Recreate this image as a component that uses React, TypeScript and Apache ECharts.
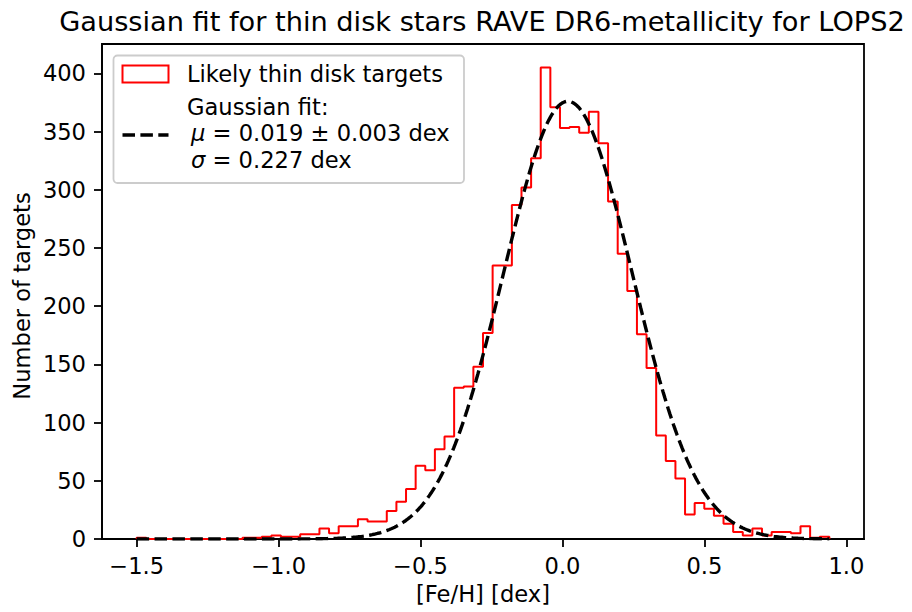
import React, { useEffect, useRef } from "react";
import * as echarts from "echarts";

// Histogram of [Fe/H] (72 equal bins between HIST_MIN and HIST_MAX)
const HIST_MIN = -1.5;
const HIST_MAX = 0.94;
const COUNTS = [
  1, 0, 0, 0, 0, 0, 0, 0, 0, 0,
  0, 1, 1, 2, 3, 2, 2, 4, 4, 9,
  5, 11, 11, 17, 15, 15, 24, 32, 43, 63,
  59, 77, 88, 130, 131, 148, 177, 235, 235, 287,
  302, 327, 405, 371, 353, 354, 349, 367, 340, 290,
  245, 213, 176, 147, 89, 67, 52, 21, 31, 26,
  20, 13, 6, 3, 9, 3, 6, 6, 5, 11,
  1, 2,
];

// Gaussian fit parameters (from legend) and plotted peak height
const FIT_MU = 0.019;
const FIT_SIGMA = 0.227;
const FIT_AMP = 376;
const FIT_SAMPLES = 400;

const X_TICKS = [-1.5, -1.0, -0.5, 0.0, 0.5, 1.0];
const Y_TICKS = [0, 50, 100, 150, 200, 250, 300, 350, 400];

const TITLE = "Gaussian fit for thin disk stars RAVE DR6-metallicity for LOPS2";
const X_LABEL = "[Fe/H] [dex]";
const Y_LABEL = "Number of targets";
const LEGEND_HIST = "Likely thin disk targets";
const LEGEND_FIT_1 = "Gaussian fit:";
const LEGEND_FIT_MU = "0.019 ± 0.003 dex";
const LEGEND_FIT_SIGMA = "0.227 dex";

const FONT = "DejaVu Sans";
const FS = 22.6;
const FS_TITLE = 27.2;

export default function App() {
  const ref = useRef<HTMLDivElement>(null);

  useEffect(() => {
    if (!ref.current) return;
    const chart = echarts.init(ref.current, null, { renderer: "svg" });

    const nb = COUNTS.length;
    const w = (HIST_MAX - HIST_MIN) / nb;
    const step: number[][] = [[HIST_MIN, 0]];
    for (let i = 0; i < nb; i++) step.push([HIST_MIN + i * w, COUNTS[i]]);
    step.push([HIST_MAX, COUNTS[nb - 1]]);
    step.push([HIST_MAX, 0]);

    const gauss: number[][] = [];
    for (let i = 0; i <= FIT_SAMPLES; i++) {
      const x = HIST_MIN + ((HIST_MAX - HIST_MIN) * i) / FIT_SAMPLES;
      gauss.push([x, FIT_AMP * Math.exp(-((x - FIT_MU) ** 2) / (2 * FIT_SIGMA ** 2))]);
    }

    const maxVal = Math.max(...COUNTS, FIT_AMP);
    const span = HIST_MAX - HIST_MIN;

    const lbl = { color: "#000", fontSize: FS, fontFamily: FONT };
    const axisLine = { show: true, onZero: false, lineStyle: { color: "#000", width: 1.8 } };
    const tick = { show: true, inside: false, length: 8, lineStyle: { color: "#000", width: 1.8 } };

    chart.setOption({
      animation: false,
      grid: {
        left: 102,
        top: 44,
        right: 48,
        bottom: 73,
        show: true,
        borderColor: "#000",
        borderWidth: 1.8,
        backgroundColor: "transparent",
      },
      xAxis: {
        type: "value",
        min: HIST_MIN - 0.05 * span,
        max: HIST_MAX + 0.05 * span,
        splitLine: { show: false },
        axisLine,
        axisTick: { ...tick, customValues: X_TICKS },
        axisLabel: {
          ...lbl,
          margin: 15,
          customValues: X_TICKS,
          formatter: (v: number) => v.toFixed(1).replace("-", "\u2212"),
        },
      },
      yAxis: {
        type: "value",
        min: 0,
        max: maxVal * 1.05,
        splitLine: { show: false },
        axisLine,
        axisTick: { ...tick, customValues: Y_TICKS },
        axisLabel: { ...lbl, margin: 16, customValues: Y_TICKS, formatter: (v: number) => String(Math.round(v)) },
      },
      series: [
        {
          type: "line",
          data: step,
          step: "end",
          showSymbol: false,
          lineStyle: { color: "#ff0000", width: 2 },
          z: 2,
        },
        {
          type: "line",
          data: gauss,
          showSymbol: false,
          lineStyle: { color: "#000", width: 3.4, type: [12.5, 5.4] },
          z: 3,
        },
      ],
      graphic: [
        {
          type: "text",
          x: 482,
          y: 21,
          style: { text: TITLE, fontSize: FS_TITLE, fontFamily: FONT, fill: "#000", align: "center", verticalAlign: "middle" },
        },
        {
          type: "text",
          x: 483,
          y: 594,
          style: { text: X_LABEL, fontSize: FS, fontFamily: FONT, fill: "#000", align: "center", verticalAlign: "middle" },
        },
        {
          type: "text",
          x: 22,
          y: 296,
          rotation: Math.PI / 2,
          style: { text: Y_LABEL, fontSize: FS, fontFamily: FONT, fill: "#000", align: "center", verticalAlign: "middle" },
        },
        {
          type: "group",
          z: 100,
          children: [
            {
              type: "rect",
              shape: { x: 113.5, y: 55.5, width: 350.5, height: 127.5, r: 4 },
              style: { fill: "rgba(255,255,255,0.8)", stroke: "#cccccc", lineWidth: 1.8 },
            },
            {
              type: "rect",
              shape: { x: 122.5, y: 65.5, width: 46, height: 17 },
              style: { fill: "none", stroke: "#ff0000", lineWidth: 2 },
            },
            {
              type: "line",
              shape: { x1: 122.5, y1: 135, x2: 168.5, y2: 135 },
              style: { stroke: "#000", lineWidth: 3.4, lineDash: [12.5, 5.4] },
            },
            {
              type: "text",
              x: 187,
              y: 74,
              style: { text: LEGEND_HIST, fontSize: FS, fontFamily: FONT, fill: "#000", align: "left", verticalAlign: "middle" },
            },
            {
              type: "text",
              x: 187,
              y: 107,
              style: { text: LEGEND_FIT_1, fontSize: FS, fontFamily: FONT, fill: "#000", align: "left", verticalAlign: "middle" },
            },
            {
              type: "text",
              x: 191,
              y: 133,
              style: {
                text: "{i|μ} = " + LEGEND_FIT_MU,
                fontSize: FS,
                fontFamily: FONT,
                fill: "#000",
                align: "left",
                verticalAlign: "middle",
                rich: { i: { fontStyle: "italic", fontSize: FS, fontFamily: FONT, fill: "#000" } },
              },
            },
            {
              type: "text",
              x: 191,
              y: 160,
              style: {
                text: "{i|σ} = " + LEGEND_FIT_SIGMA,
                fontSize: FS,
                fontFamily: FONT,
                fill: "#000",
                align: "left",
                verticalAlign: "middle",
                rich: { i: { fontStyle: "italic", fontSize: FS, fontFamily: FONT, fill: "#000" } },
              },
            },
          ],
        },
      ],
    });

    return () => chart.dispose();
  }, []);

  return (
    <div
      ref={ref}
      style={{ position: "fixed", left: 0, top: 0, width: 912, height: 612, background: "#fff" }}
    />
  );
}
